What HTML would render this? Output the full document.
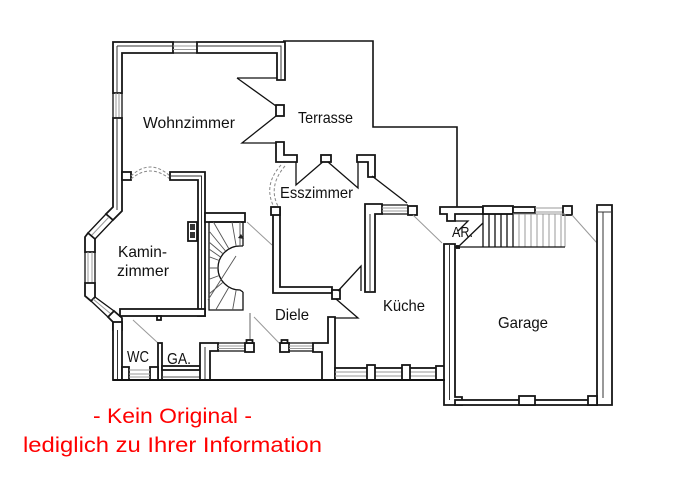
<!DOCTYPE html>
<html><head><meta charset="utf-8">
<style>
html,body{margin:0;padding:0;background:#fff}
svg{display:block}
.w{fill:#fff;stroke:#161616;stroke-width:1.8;stroke-linejoin:miter}
.i{fill:none;stroke:#333;stroke-width:1}
.g{fill:none;stroke:#999;stroke-width:1}
.t{fill:none;stroke:#111;stroke-width:1.3}
.s{fill:none;stroke:#555;stroke-width:0.9}
.d{fill:none;stroke:#888;stroke-width:1;stroke-dasharray:3 2}
text{font-family:"Liberation Sans",sans-serif}
.l{font-size:16px;fill:#111}
.r{font-size:21px;fill:#f00}
</style></head><body>
<svg width="676" height="485" viewBox="0 0 676 485" xmlns="http://www.w3.org/2000/svg">
<rect width="676" height="485" fill="#fff"/>

<!-- Terrace outline -->
<path class="t" style="stroke-width:1.6" d="M283,41 H373 V127 H457 V207"/>

<!-- Wohnzimmer top / left walls -->
<path class="w" d="M113,42 H173 V53 H122 V93 H113 Z"/>
<path class="i" d="M117,46 H173 M117,46 V93"/>
<path class="t" d="M173,42 H197 M173,53 H197"/>
<path class="g" d="M173,46 H197 M173,49.5 H197"/>
<path class="w" d="M197,42 H285 V80 H277 V53 H197 Z"/>
<path class="i" d="M197,46 H281 V80"/>
<path class="t" d="M113,93 V118 M122,93 V118"/>
<path class="g" d="M116,93 V118 M119,93 V118"/>
<polygon class="w" points="113,118 122,118 122,211 113,220 106,214 113,207"/>
<path class="i" d="M117,118 V210"/>

<!-- Bay window -->
<path class="t" d="M106,214 L88,233 M113,220 L95,239"/>
<path class="g" d="M109,217 L91,236"/>
<polygon class="w" points="88,233 95,239 95,252 85,252 85,237"/>
<path class="t" d="M85,252 V283 M95,252 V283"/>
<path class="g" d="M88,252 V283 M92,252 V283"/>
<polygon class="w" points="85,283 95,283 95,297 91,301 85,296"/>
<path class="t" d="M91,301 L108,317 M95,297 L114,311"/>
<path class="g" d="M93,299 L111,314"/>
<polygon class="w" points="108,317 114,311 122,318 122,330 113,330 113,322"/>
<rect class="w" x="113" y="322" width="9" height="58"/>
<path class="i" d="M117.5,330 V380"/>

<!-- Kaminzimmer -->
<rect class="w" x="122" y="172" width="9" height="8"/>
<path class="d" d="M131,176 Q150,158 170,176"/>
<path class="d" d="M131,179 Q150,163 170,179"/>
<path class="w" d="M170,172 H205 V316 H198 V180 H170 Z"/>
<path class="i" d="M170,176 H201.5 V316"/>
<rect class="w" x="188" y="222" width="9" height="19"/>
<rect x="190" y="224" width="5" height="6" fill="#333"/>
<rect x="190" y="232" width="5" height="6" fill="#333"/>
<rect class="w" x="120" y="309" width="85" height="7"/>
<rect class="w" x="157" y="316" width="4" height="4"/>

<!-- Stairs -->
<rect class="w" x="205" y="213" width="40" height="9"/>
<path class="t" d="M209,222 V310 H243 V292 M209,222 H243 V246"/>
<path class="t" d="M243,246 L240,246 A22,22 0 0 0 240,290 L243,292"/>
<path class="s" d="M236.2,246.3 L232,222 M229,249 L213.4,222 M223.1,253.9 L209,242 M219.3,260.5 L209,256.7 M218,268 L209,268 M219.3,275.5 L209,279.3 M223.1,282.1 L209,294 M229,287 L215.7,310 M236.2,289.7 L232.6,310 M240,246 L240,222 M225.5,251 L209,231 M220.5,257 L209,249"/>
<path class="s" d="M208,300 L236,256"/>
<path d="M241,234 L244,239 L238,238 Z" fill="#222"/>

<!-- Diele -->
<path class="g" d="M247,222 L272,245"/>
<path class="s" d="M250,313 V343"/>
<path class="g" d="M254,317 L281,345"/>

<!-- WC / GA -->
<path class="g" d="M133,320 L158,343"/>
<rect class="w" x="158" y="343" width="4" height="37"/>
<rect class="w" x="122" y="367" width="7" height="13"/>
<rect class="w" x="150" y="367" width="8" height="13"/>
<path class="g" d="M129,370 H150 M129,374 H150 M129,377 H150"/>
<rect class="w" x="162" y="366" width="38" height="4"/>
<path class="s" d="M162,377 H200"/>
<path class="w" d="M200,343 H218 V351 H210 V380 H200 Z"/>
<path class="i" d="M205,347 V380"/>
<path class="t" d="M218,343 H245 M218,351 H245"/>
<path class="g" d="M218,346 H245 M218,348.5 H245"/>
<rect class="w" x="245" y="343" width="9" height="9"/>
<rect class="w" x="246.5" y="340" width="6" height="3"/>
<rect class="w" x="280" y="343" width="9" height="9"/>
<rect class="w" x="281.5" y="340" width="6" height="3"/>
<path class="t" d="M289,343 H313 M289,351 H313"/>
<path class="g" d="M289,346 H313 M289,348.5 H313"/>
<path class="w" d="M313,343 H328 V317 H335 V380 H322 V352 H313 Z"/>

<!-- Wohnzimmer terrace door -->
<path class="t" d="M237,78 H277 M237,78 L276,106"/>
<rect class="w" x="276" y="105" width="8" height="11"/>
<path class="t" d="M276,116 L242,143 H276"/>
<path class="w" d="M276,142 H284 V155 H297 V162 H276 Z"/>

<!-- Esszimmer -->
<path class="d" d="M281,165 Q262,186 275,209"/>
<path class="d" d="M285,166 Q267,187 279,208"/>
<path class="t" d="M296,162 V185 L325,160"/>
<rect class="w" x="321" y="155" width="10" height="7"/>
<path class="t" d="M328,162 L358,188 V162"/>
<path class="w" d="M357,155 H375 V177 H368 V162 H357 Z"/>
<path class="t" d="M372,176 L407,203"/>
<path class="w" d="M273,208 H280 V287 H332 V293 H273 Z"/>
<rect class="w" x="271" y="207" width="9" height="8"/>
<rect class="w" x="332" y="290" width="8" height="9"/>
<path class="t" d="M338,291 L361,266 V291"/>
<path class="t" d="M336,299 L358,318 H335"/>

<!-- Küche -->
<path class="w" d="M365,204 H382 V214 H375 V292 H365 Z"/>
<path class="i" d="M370,214 V292"/>
<path class="t" d="M382,205 H408 M382,214 H408"/>
<path class="g" d="M382,208 H408 M382,211 H408"/>
<rect class="w" x="408" y="206" width="9" height="9"/>
<path class="g" d="M413,215 L442,243"/>
<rect class="w" x="335" y="368" width="102" height="12"/>
<path class="g" d="M335,372 H437 M335,376 H437"/>
<rect class="w" x="367" y="365" width="8" height="15"/>
<rect class="w" x="402" y="365" width="8" height="15"/>
<rect class="w" x="436" y="366" width="9" height="14"/>

<!-- AR / Garage -->
<path class="w" d="M440,207 H483 V214 H455 V221 H447 V214 H440 Z"/>
<path class="t" d="M455,221 H468 L458,231"/>
<path class="w" d="M444,244 H455 V397 H462 V405 H444 Z"/>
<path class="i" d="M449.5,244 V400"/>
<path class="t" d="M457,248 L483,223"/>
<rect x="456" y="245" width="4" height="4" fill="#222"/>
<rect class="w" x="483" y="206" width="30" height="8"/>
<rect class="w" x="513" y="207" width="22" height="6"/>
<path class="g" d="M535,208 H563 M535,212 H563"/>
<rect class="w" x="563" y="206" width="9" height="9"/>
<path class="t" d="M483,214 H513 M483,214 V247 M489,214 V247 M495,214 V247 M501,214 V247 M507,214 V247 M513,214 V247"/>
<path class="g" d="M513,214 H565 M519,214 V247 M525,214 V247 M531,214 V247 M537,214 V247 M543,214 V247 M549,214 V247 M555,214 V247 M561,214 V247 M565,214 V247"/>
<path class="t" d="M455,247 H565"/>
<path class="g" d="M572,215 L597,243"/>
<path class="w" d="M597,205 H612 V405 H597 Z"/>
<path class="i" d="M603,212 V398 M597,212 H612"/>
<rect class="w" x="455" y="400" width="142" height="5"/>
<rect class="w" x="519" y="396" width="16" height="9"/>
<rect class="w" x="588" y="396" width="9" height="9"/>

<!-- Baseline -->
<path class="t" style="stroke-width:1.9" d="M113,380 H445"/>

<!-- Labels -->
<text class="l" x="143" y="128" textLength="92" lengthAdjust="spacingAndGlyphs">Wohnzimmer</text>
<text class="l" x="298" y="123" textLength="55" lengthAdjust="spacingAndGlyphs">Terrasse</text>
<text class="l" x="280" y="198" textLength="73" lengthAdjust="spacingAndGlyphs">Esszimmer</text>
<text class="l" x="118" y="257" textLength="49" lengthAdjust="spacingAndGlyphs">Kamin-</text>
<text class="l" x="117" y="276" textLength="52" lengthAdjust="spacingAndGlyphs">zimmer</text>
<text class="l" x="383" y="311" textLength="42" lengthAdjust="spacingAndGlyphs">Küche</text>
<text class="l" x="275" y="320" textLength="34" lengthAdjust="spacingAndGlyphs">Diele</text>
<text class="l" x="498" y="328" textLength="50" lengthAdjust="spacingAndGlyphs">Garage</text>
<text class="l" x="127" y="362" textLength="22" lengthAdjust="spacingAndGlyphs">WC</text>
<text class="l" x="167" y="364" textLength="24" lengthAdjust="spacingAndGlyphs">GA.</text>
<text class="l" x="452" y="237" textLength="21" lengthAdjust="spacingAndGlyphs" style="font-size:15px">AR.</text>

<text class="r" x="93" y="423" textLength="159" lengthAdjust="spacingAndGlyphs">- Kein Original -</text>
<text class="r" x="23" y="452" textLength="299" lengthAdjust="spacingAndGlyphs">lediglich zu Ihrer Information</text>
</svg>
</body></html>
